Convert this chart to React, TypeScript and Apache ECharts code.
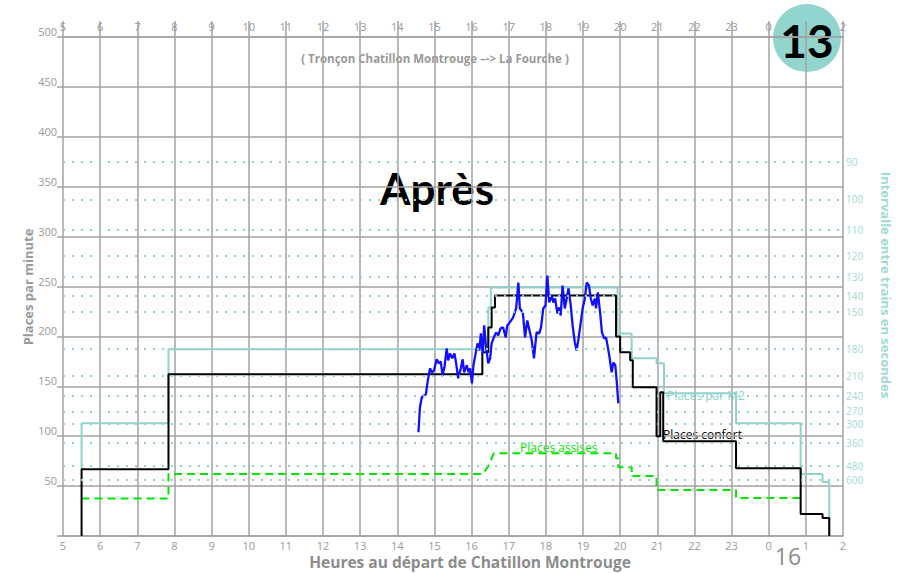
import React, { useEffect, useRef } from "react";
import * as echarts from "echarts";

// ---- data (hours, places per minute) ----
const hourTicks = [5, 6, 7, 8, 9, 10, 11, 12, 13, 14, 15, 16, 17, 18, 19, 20, 21, 22, 23, 24, 25, 26];

const placesConfort: [number, number][] = [
  [5.5, 0], [5.5, 67], [7.84, 67], [7.84, 162], [16.29, 162], [16.29, 184], [16.45, 184], [16.45, 209],
  [16.54, 209], [16.54, 229], [16.63, 229], [16.63, 241], [19.89, 241], [19.89, 200], [20.0, 200],
  [20.0, 184], [20.27, 184], [20.27, 176], [20.34, 176], [20.34, 149], [20.98, 149], [20.98, 100],
  [21.08, 100], [21.08, 144], [21.16, 144], [21.16, 95], [23.12, 95], [23.12, 68], [24.86, 68],
  [24.86, 22], [25.45, 22], [25.45, 18], [25.63, 18], [25.63, 0],
];

const placesM2: [number, number][] = [
  [5.5, 67], [5.5, 113], [7.84, 113], [7.84, 187], [16.45, 187], [16.45, 229], [16.52, 229], [16.52, 249],
  [19.93, 249], [19.93, 203], [20.31, 203], [20.31, 178], [20.98, 178], [20.98, 173], [21.18, 173],
  [21.18, 143], [23.12, 143], [23.12, 113], [24.86, 113], [24.86, 62], [25.45, 62], [25.45, 54],
  [25.63, 54], [25.63, 0],
];

const placesAssises: [number, number][] = [
  [5.5, 37.5], [7.84, 37.5], [7.84, 62], [16.3, 62], [16.45, 70], [16.6, 83], [19.89, 83], [19.89, 78],
  [19.95, 78], [19.95, 69], [20.31, 69], [20.31, 60], [20.98, 60], [20.98, 46], [23.12, 46], [23.12, 38],
  [24.86, 38],
];

const mesure: [number, number][] = [
  [14.57, 104], [14.61, 129], [14.66, 139], [14.77, 142], [14.81, 153], [14.88, 168], [14.93, 164],
  [14.99, 166], [15.06, 177], [15.12, 173], [15.17, 175], [15.22, 161], [15.27, 169], [15.33, 188],
  [15.37, 176], [15.42, 183], [15.48, 178], [15.54, 183], [15.58, 174], [15.64, 158], [15.71, 168],
  [15.76, 177], [15.8, 164], [15.87, 171], [15.92, 164], [15.96, 168], [16.01, 153], [16.05, 171],
  [16.11, 183], [16.16, 193], [16.21, 186], [16.25, 203], [16.3, 183], [16.34, 211], [16.39, 189],
  [16.45, 173], [16.5, 178], [16.54, 193], [16.6, 199], [16.66, 204], [16.72, 201], [16.78, 208],
  [16.85, 209], [16.92, 199], [16.96, 211], [17.03, 214], [17.12, 219], [17.2, 228], [17.26, 254],
  [17.3, 228], [17.38, 224], [17.44, 199], [17.5, 216], [17.56, 206], [17.62, 196], [17.68, 178],
  [17.75, 204], [17.82, 203], [17.87, 209], [17.93, 228], [17.99, 231], [18.04, 261], [18.09, 234],
  [18.16, 241], [18.2, 234], [18.25, 238], [18.31, 223], [18.36, 229], [18.4, 221], [18.45, 251],
  [18.51, 228], [18.56, 238], [18.61, 248], [18.67, 231], [18.72, 211], [18.78, 194], [18.83, 186],
  [18.88, 198], [18.94, 214], [18.99, 228], [19.05, 238], [19.1, 254], [19.16, 251], [19.21, 238],
  [19.26, 231], [19.32, 238], [19.35, 228], [19.4, 244], [19.46, 224], [19.51, 204], [19.57, 198],
  [19.62, 199], [19.66, 191], [19.72, 178], [19.77, 164], [19.82, 174], [19.87, 171], [19.91, 154],
  [19.95, 133],
];

// train intervals (seconds) shown on the right, and places per train used to place them
const intervals = [90, 100, 110, 120, 130, 140, 150, 180, 210, 240, 270, 300, 360, 480, 600];
const placesPerTrain = 562;

const GRAY = "#999999";
const GRID = "#a2a2a2";
const TEAL = "#8fd3cc";
const FONT = "'Open Sans', sans-serif";

export default function App() {
  const ref = useRef<HTMLDivElement>(null);
  useEffect(() => {
    if (!ref.current) return;
    const chart = echarts.init(ref.current, null, { renderer: "svg" });
    const xCommon = {
      type: "value" as const,
      min: hourTicks[0],
      max: hourTicks[hourTicks.length - 1],
      interval: 1,
    };
    const hourLabel = (v: number) => String(v % 24);
    chart.setOption({
      animation: false,
      textStyle: { fontFamily: FONT },
      grid: { left: 63, right: 55, top: 37, bottom: 37 },
      xAxis: [
        {
          ...xCommon,
          position: "bottom",
          axisLine: { show: true, lineStyle: { color: GRID, width: 1.5 } },
          axisTick: { show: false },
          axisLabel: { color: GRAY, fontSize: 11, margin: 3, lineHeight: 12, formatter: hourLabel },
          splitLine: { show: true, lineStyle: { color: GRID, width: 1.5 } },
        },
        {
          ...xCommon,
          position: "top",
          axisLine: { show: true, lineStyle: { color: GRID, width: 1.5 } },
          axisTick: { show: true, length: 16, lineStyle: { color: GRID, width: 1.5 } },
          axisLabel: {
            color: GRAY,
            fontSize: 11,
            margin: 5,
            formatter: (v: number) => (v === 25 ? "" : hourLabel(v)),
          },
          splitLine: { show: false },
        },
      ],
      yAxis: {
        type: "value",
        min: 0,
        max: 500,
        interval: 50,
        axisLine: { show: false },
        axisTick: { show: true, length: 6, lineStyle: { color: GRID, width: 1.5 } },
        axisLabel: {
          color: GRAY,
          fontSize: 11,
          margin: 6,
          verticalAlign: "bottom",
          formatter: (v: number) => (v === 0 ? "" : String(v)),
        },
        splitLine: { show: true, lineStyle: { color: GRID, width: 1.5 } },
      },
      series: [
        {
          type: "line",
          data: [],
          markLine: {
            silent: true,
            symbol: "none",
            lineStyle: { color: TEAL, type: [2, 7], width: 2 },
            label: { position: "end", color: "#9fdad4", fontSize: 10, lineHeight: 11, distance: 3 },
            data: intervals.map((s) => ({
              yAxis: (placesPerTrain * 60) / s,
              label: { formatter: String(s) },
            })),
          },
        },
        {
          name: "Places assises",
          type: "line",
          data: placesAssises,
          showSymbol: false,
          lineStyle: { color: "#00e600", width: 2, type: [8, 5] },
        },
        {
          name: "Places par M2",
          type: "line",
          data: placesM2,
          showSymbol: false,
          lineStyle: { color: TEAL, width: 2 },
        },
        {
          name: "Places confort",
          type: "line",
          data: placesConfort,
          showSymbol: false,
          lineStyle: { color: "#000000", width: 2 },
        },
        {
          name: "Mesure",
          type: "line",
          data: mesure,
          showSymbol: false,
          lineStyle: { color: "#1010ff", width: 2.3 },
        },
      ],
      graphic: [
        {
          type: "text",
          x: 435,
          y: 58,
          style: {
            text: "( Tronçon Chatillon Montrouge –-> La Fourche )",
            fill: GRAY,
            font: `bold 11.5px ${FONT}`,
            align: "center",
            verticalAlign: "middle",
          },
        },
        {
          type: "text",
          x: 437,
          y: 188,
          style: { text: "Après", fill: "#000", font: "bold 44px Lato, sans-serif", align: "center", verticalAlign: "middle" },
        },
        {
          type: "text",
          x: 470,
          y: 562,
          style: {
            text: "Heures au départ de Chatillon Montrouge",
            fill: "#8c8c8c",
            font: `bold 15.5px ${FONT}`,
            align: "center",
            verticalAlign: "middle",
          },
        },
        {
          type: "text",
          x: 788,
          y: 556,
          style: { text: "16", fill: "#8c8c8c", font: `23px ${FONT}`, align: "center", verticalAlign: "middle" },
        },
        {
          type: "text",
          x: 28,
          y: 287,
          rotation: Math.PI / 2,
          style: { text: "Places par minute", fill: GRAY, font: `bold 13px ${FONT}`, align: "center", verticalAlign: "middle" },
        },
        {
          type: "text",
          x: 886,
          y: 285,
          rotation: -Math.PI / 2,
          style: {
            text: "Intervalle entre trains en secondes",
            fill: "#9fdad4",
            font: `bold 13px ${FONT}`,
            align: "center",
            verticalAlign: "middle",
          },
        },
        {
          type: "text",
          x: 667,
          y: 395,
          style: { text: "Places par M2", fill: TEAL, font: `12px ${FONT}`, verticalAlign: "middle" },
        },
        {
          type: "text",
          x: 663,
          y: 434,
          style: { text: "Places confort", fill: "#000", font: `12px ${FONT}`, verticalAlign: "middle" },
        },
        {
          type: "text",
          x: 520,
          y: 447,
          style: { text: "Places assises", fill: "#00e600", font: `12px ${FONT}`, verticalAlign: "middle" },
        },
        {
          type: "circle",
          shape: { cx: 807, cy: 38, r: 34 },
          style: { fill: "#92d5cf" },
        },
        {
          type: "text",
          x: 807,
          y: 40,
          style: { text: "13", fill: "#000", font: "bold 46px Lato, sans-serif", align: "center", verticalAlign: "middle" },
        },
      ],
    });
    return () => chart.dispose();
  }, []);
  return <div ref={ref} style={{ position: "absolute", left: 0, top: 0, width: 898, height: 573 }} />;
}
